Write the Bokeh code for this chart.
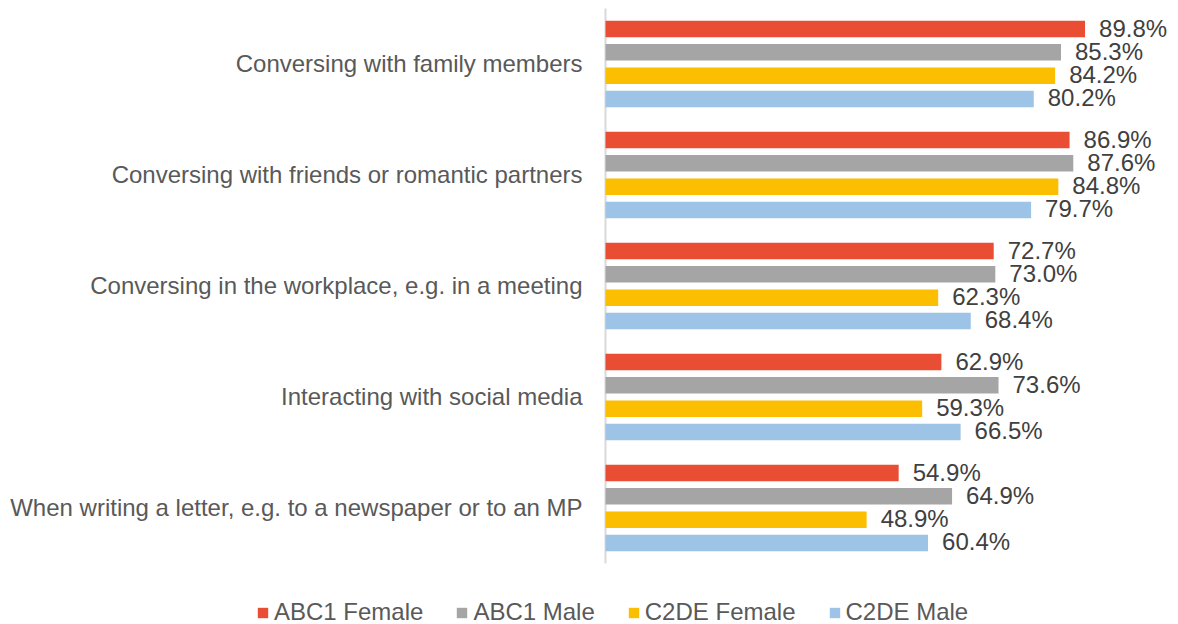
from bokeh.plotting import figure
from bokeh.models import ColumnDataSource, Range1d, Legend, LegendItem
from bokeh.core.properties import value
from bokeh.embed import file_html
from bokeh.resources import INLINE

categories = [
    "Conversing with family members",
    "Conversing with friends or romantic partners",
    "Conversing in the workplace, e.g. in a meeting",
    "Interacting with social media",
    "When writing a letter, e.g. to a newspaper or to an MP",
]
series_names = ["ABC1 Female", "ABC1 Male", "C2DE Female", "C2DE Male"]
abc1_female = [89.8, 86.9, 72.7, 62.9, 54.9]
abc1_male = [85.3, 87.6, 73.0, 73.6, 64.9]
c2de_female = [84.2, 84.8, 62.3, 59.3, 48.9]
c2de_male = [80.2, 79.7, 68.4, 66.5, 60.4]

series_values = [abc1_female, abc1_male, c2de_female, c2de_male]
colors = ["#E94D34", "#A5A5A5", "#FBBE00", "#9DC3E6"]
offsets = [0.315, 0.105, -0.105, -0.315]

FONT = "Liberation Sans"
n = len(categories)
# category band centres: first category at the top
cat_y = [n - 0.5 - i for i in range(n)]

# pixel geometry: value 0 at x=605px, 100% = 534px; category band = 111px, top band starts at 8px
W, H = 1178, 624
px_per_unit = 5.34
x0_px = 605
band_px = 111
top_px = 8
x_range = Range1d(-x0_px / px_per_unit, (W - x0_px) / px_per_unit)
y_range = Range1d(n - (H - top_px) / band_px, n + top_px / band_px)

p = figure(
    width=W, height=H, x_range=x_range, y_range=y_range,
    output_backend="svg", toolbar_location=None,
    min_border=0,
)
p.outline_line_color = None
p.xgrid.visible = False
p.ygrid.visible = False
p.xaxis.visible = False
p.yaxis.visible = False
p.background_fill_color = "white"
p.border_fill_color = "white"

# vertical axis line
p.segment(x0=[0], x1=[0], y0=[0], y1=[n], line_color="#D9D9D9", line_width=2)

# category labels
p.text(x=[0] * n, y=cat_y, text=categories, x_offset=-23, y_offset=-1,
       text_align="right", text_baseline="middle",
       text_font=value(FONT), text_font_size="24px", text_color="#595959")

items = []
for name, vals, col, off in zip(series_names, series_values, colors, offsets):
    src = ColumnDataSource(dict(
        y=[c + off for c in cat_y],
        val=vals,
        lab=[f"{v:.1f}%" for v in vals],
    ))
    r = p.hbar(y="y", right="val", left=0, height=0.149, source=src,
               fill_color=col, line_color=None)
    p.text(x="val", y="y", text="lab", source=src,
           x_offset=14, y_offset=-1, text_baseline="middle", text_align="left",
           text_font=value(FONT), text_font_size="24px", text_color="#404040")
    items.append(LegendItem(label=name, renderers=[r]))

legend = Legend(
    items=items, orientation="horizontal",
    location=(256, -2),
    glyph_width=13, glyph_height=13, label_standoff=5, spacing=32,
    label_height=20, padding=0, margin=0,
    label_text_font=FONT, label_text_font_size="24px", label_text_color="#595959",
    border_line_color=None, background_fill_alpha=0,
)
p.add_layout(legend, "center")

open("out.html", "w").write(file_html(p, INLINE))
